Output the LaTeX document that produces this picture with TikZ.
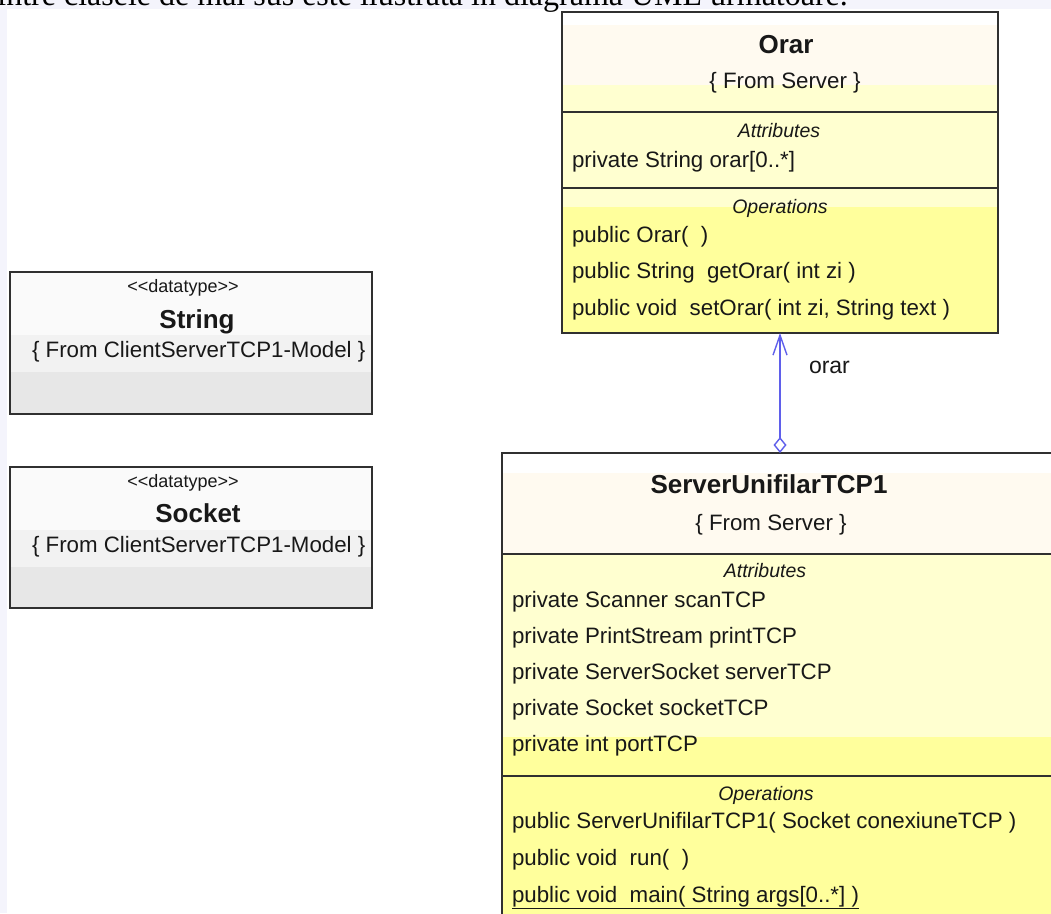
\documentclass[tikz,border=0pt]{standalone}
\usepackage{fontspec}
\setmainfont{Liberation Serif}
\newfontfamily\umlfont{Liberation Sans}
\usetikzlibrary{arrows.meta}

\definecolor{pagebg}{RGB}{244,244,252}
\definecolor{cream}{RGB}{255,250,240}
\definecolor{paleyellow}{RGB}{255,255,208}
\definecolor{umlyellow}{RGB}{255,255,156}
\definecolor{greyA}{RGB}{250,250,250}
\definecolor{greyB}{RGB}{242,242,242}
\definecolor{greyC}{RGB}{231,231,231}
\definecolor{edge}{RGB}{48,48,48}
\definecolor{ink}{RGB}{24,24,24}
\definecolor{assocblue}{RGB}{95,95,235}

\tikzset{
  boxframe/.style={draw=edge, line width=1.6pt, inner sep=0pt, outer sep=0pt, anchor=north west},
  divider/.style={draw=edge, line width=1.6pt},
  txt/.style={inner sep=0pt, outer sep=0pt, text=ink, font=\umlfont\fontsize{22.3}{26}\selectfont},
  member/.style={txt, anchor=base west},
  title/.style={inner sep=0pt, outer sep=0pt, text=ink, anchor=base, font=\umlfont\bfseries\fontsize{26}{30}\selectfont},
  origin/.style={txt, anchor=base},
  section/.style={inner sep=0pt, outer sep=0pt, text=ink, anchor=base, font=\umlfont\itshape\fontsize{19.5}{23}\selectfont},
  stereo/.style={inner sep=0pt, outer sep=0pt, text=ink, anchor=base, font=\umlfont\fontsize{18}{22}\selectfont},
  assoc/.style={draw=assocblue, line width=1.4pt}
}

\begin{document}
\begin{tikzpicture}[x=1pt,y=-1pt]
\useasboundingbox (0,0) rectangle (1051,913);
\clip (0,0) rectangle (1051,913);

% page background and the margin strips
\fill[white] (0,0) rectangle (1051,913);
\fill[pagebg] (0,0) rectangle (1051,9);
\fill[pagebg] (0,0) rectangle (7,913);

% running sentence above the figure
\node[inner sep=0pt, anchor=base east, text=black, font=\fontsize{32}{36}\selectfont] (intro) at (848,5)
  {dintre clasele de mai sus este ilustrată în diagrama UML următoare.};

% ---------- datatype String ----------
\fill[greyA] (10,272) rectangle (372,335);
\fill[greyB] (10,335) rectangle (372,372);
\fill[greyC] (10,372) rectangle (372,414);
\node[boxframe, minimum width=362pt, minimum height=142pt] (string) at (10,272) {};
\node[stereo] (stringst) at (183,292) {<<datatype>>};
\node[title] (stringname) at (197,328) {String};
\node[member] (stringfrom) at (32,357) {\{ From ClientServerTCP1-Model \}};

% ---------- datatype Socket ----------
\fill[greyA] (10,467) rectangle (372,530);
\fill[greyB] (10,530) rectangle (372,567);
\fill[greyC] (10,567) rectangle (372,608);
\node[boxframe, minimum width=362pt, minimum height=141pt] (socket) at (10,467) {};
\node[stereo] (socketst) at (183,487) {<<datatype>>};
\node[title] (socketname) at (198,522) {Socket};
\node[member] (socketfrom) at (32,552) {\{ From ClientServerTCP1-Model \}};

% ---------- class Orar ----------
\fill[white] (562,12) rectangle (998,25);
\fill[cream] (562,25) rectangle (998,85);
\fill[paleyellow] (562,85) rectangle (998,207);
\fill[umlyellow] (562,207) rectangle (998,333);
\node[boxframe, minimum width=436pt, minimum height=321pt] (orar) at (562,12) {};
\draw[divider] (562,112) -- (998,112);
\draw[divider] (562,188) -- (998,188);
\node[title] (orarname) at (786,53) {Orar};
\node[origin] (orarfrom) at (785,88) {\{ From Server \}};
\node[section] (orarattr) at (779,137) {Attributes};
\node[member] (orara1) at (572,167) {private String orar[0..*]};
\node[section] (oraropsh) at (780,213) {Operations};
\node[member] (oraro1) at (572,242) {public Orar(\ \ )};
\node[member] (oraro2) at (572,278) {public String\ \ getOrar( int zi )};
\node[member] (oraro3) at (572,315) {public void\ \ setOrar( int zi, String text )};

% ---------- class ServerUnifilarTCP1 ----------
\fill[white] (502,453) rectangle (1070,473);
\fill[cream] (502,473) rectangle (1070,554);
\fill[paleyellow] (502,554) rectangle (1070,737);
\fill[umlyellow] (502,737) rectangle (1070,940);
\node[boxframe, minimum width=568pt, minimum height=487pt] (srv) at (502,453) {};
\draw[divider] (502,554) -- (1070,554);
\draw[divider] (502,776) -- (1070,776);
\node[title] (srvname) at (769,493) {ServerUnifilarTCP1};
\node[origin] (srvfrom) at (771,530) {\{ From Server \}};
\node[section] (srvattr) at (765,577) {Attributes};
\node[member] (srva1) at (512,607) {private Scanner scanTCP};
\node[member] (srva2) at (512,643) {private PrintStream printTCP};
\node[member] (srva3) at (512,679) {private ServerSocket serverTCP};
\node[member] (srva4) at (512,715) {private Socket socketTCP};
\node[member] (srva5) at (512,751) {private int portTCP};
\node[section] (srvopsh) at (766,800) {Operations};
\node[member] (srvo1) at (512,828) {public ServerUnifilarTCP1( Socket conexiuneTCP )};
\node[member] (srvo2) at (512,865) {public void\ \ run(\ \ )};
\node[member] (srvo3) at (512,902) {\underline{public void\ \ main( String args[0..*] )}};

% ---------- aggregation ServerUnifilarTCP1 -> Orar ----------
\draw[assoc, {Diamond[open, length=16pt, width=13pt, line width=1.4pt]}-{Straight Barb[length=20pt, width=14pt, line width=1.4pt]}]
  (srv.north -| orar.south) -- (orar.south);
\node[txt, anchor=base west, font=\umlfont\fontsize{23}{27}\selectfont] (rolelabel) at (809,373) {orar};
\end{tikzpicture}
\end{document}
